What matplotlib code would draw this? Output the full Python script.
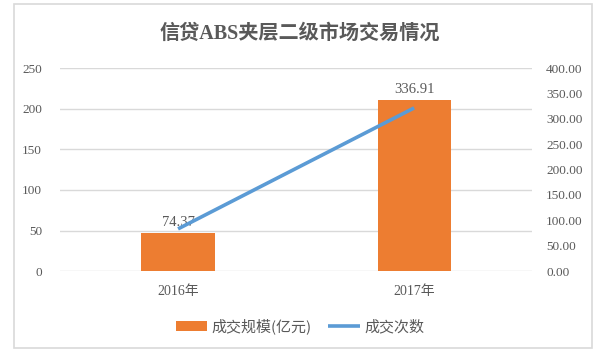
import matplotlib.pyplot as plt
from matplotlib.patches import Rectangle

# data
years = ["2016年", "2017年"]
volume = [74.37, 336.91]      # 成交规模(亿元), right axis scale
counts = [52, 201]            # 成交次数, left axis scale

title = "信贷ABS夹层二级市场交易情况"
left_ticks = [0, 50, 100, 150, 200, 250]
right_ticks = [0, 50, 100, 150, 200, 250, 300, 350, 400]

orange = "#ED7D31"
blue = "#5B9BD5"
grey = "#595959"
serif = ["Liberation Serif", "Noto Sans CJK SC"]
cjk = ["Noto Sans CJK SC", "DejaVu Sans"]

fig = plt.figure(figsize=(6, 3.53), dpi=100)
fig.patches.append(Rectangle((0.024, 0.014), 0.963, 0.975, transform=fig.transFigure,
                             fill=False, edgecolor="#D9D9D9", linewidth=1.2))

ax = fig.add_axes([0.1, 0.232, 0.787, 0.575])
ax2 = ax.twinx()

x = range(len(years))

# bars on the secondary axis, line on the primary one
bars = ax2.bar(x, volume, width=0.31, color=orange, zorder=2, label="成交规模(亿元)")
for xi, v in zip(x, volume):
    ax2.text(xi, v + 8, f"{v:.2f}", ha="center", va="bottom", fontsize=10.5,
             color=grey, family=serif)

ax.set_zorder(ax2.get_zorder() + 1)
ax.patch.set_visible(False)
line, = ax.plot(x, counts, color=blue, linewidth=2.6, solid_capstyle="butt",
                label="成交次数")

ax.set_xlim(-0.5, 1.5)
ax.set_ylim(0, 250)
ax2.set_ylim(0, 400)
ax.set_yticks(left_ticks)
ax2.set_yticks(right_ticks)
ax2.set_yticklabels([f"{t:.2f}" for t in right_ticks])
ax.set_xticks(list(x))
ax.set_xticklabels(years)

ax2.grid(False)
for t in left_ticks:
    ax2.axhline(t * 400 / 250, color="#D9D9D9", linewidth=1, zorder=0)

for a in (ax, ax2):
    for s in a.spines.values():
        s.set_visible(False)
    a.tick_params(length=0, colors=grey, labelsize=9.5)
    for lab in a.get_yticklabels() + a.get_xticklabels():
        lab.set_family(serif)
ax.tick_params(axis="y", pad=13)
ax2.tick_params(axis="y", pad=10)
ax.tick_params(axis="x", pad=10, labelsize=10)

fig.text(0.5, 0.905, title, ha="center", va="center", fontsize=14.5,
         fontweight="bold", color=grey, family=serif)

fig.legend([bars, line], ["成交规模(亿元)", "成交次数"], loc="center",
           bbox_to_anchor=(0.5, 0.075), ncol=2, frameon=False,
           prop={"family": cjk, "size": 10.8}, labelcolor=grey,
           handlelength=2.1, columnspacing=1.1, handletextpad=0.3)

fig.savefig("out.png", dpi=100)
